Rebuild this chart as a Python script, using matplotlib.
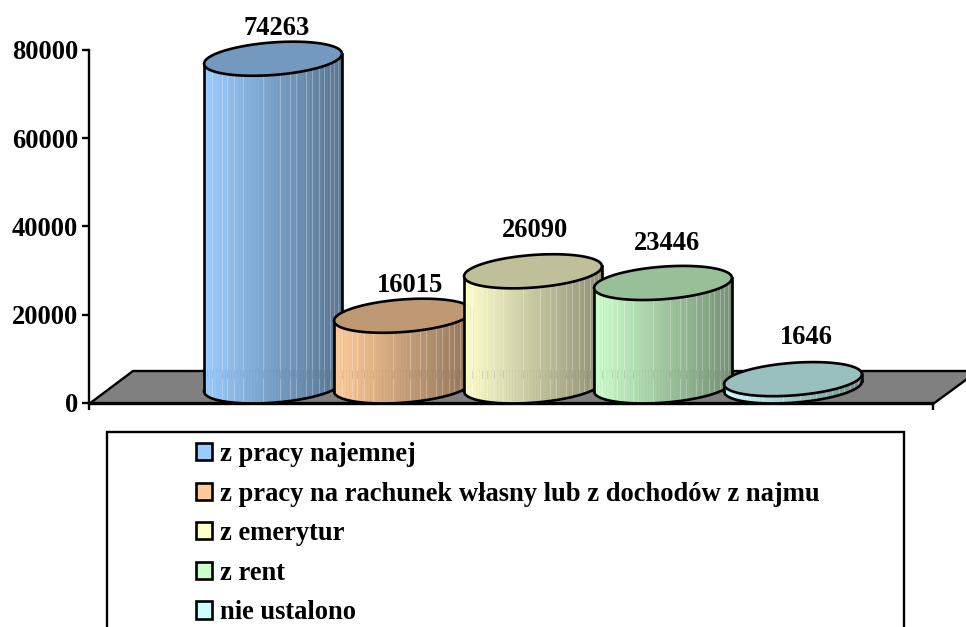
import numpy as np
import matplotlib
matplotlib.use('Agg')
import matplotlib.pyplot as plt
from matplotlib.patches import Patch, Polygon, Rectangle
from matplotlib.transforms import Affine2D

plt.rcParams['font.family'] = ['Liberation Serif', 'DejaVu Serif']
plt.rcParams['font.weight'] = 'bold'

categories = ['z pracy najemnej',
              'z pracy na rachunek własny lub z dochodów z najmu',
              'z emerytur', 'z rent', 'nie ustalono']
values = [74263, 16015, 26090, 23446, 1646]
yticks = [0, 20000, 40000, 60000, 80000]
colors = ['#99CCFF', '#FFCC99', '#FFFFCC', '#CCFFCC', '#CCFFFF']

# where the pale lines sit across a cylinder, 0 = left side, 1 = right side
stripes = [.06, .13, .17, .22, .28, .43, .55, .62, .67, .74, .78, .83, .87, .91, .94, .97]
# hand placed value labels in the original, pixels from the top of the cylinder
label_dx = [4, 7, 2, 4, 13]
label_dy = [30, 30, 41, 39, 42]

W, H = 966, 627
FONT = 19.1
EDGE = 1.9
fig = plt.figure(figsize=(W / 100, H / 100), dpi=100)
# pixel coords of the reference, y going down
px = Affine2D().scale(1 / W, -1 / H).translate(0, 1) + fig.transFigure

ax = fig.add_axes([89 / W, 1 - 403 / H, (933 - 89) / W, (403 - 50) / H])
ax.patch.set_alpha(0)
ax.set_ylim(0, 80000)
ax.set_xlim((89 - 273) / 130, (933 - 273) / 130)
unit = 80000 / 353  # value per pixel
half = 69 / 130     # half width of a cylinder in category units
depth = 16.6 * unit   # bottom ellipse centre above the base line
minor = 16.3 * unit
tilt = 5 * unit


def lower(u, c):
    return c + tilt * u - minor * np.sqrt(np.clip(1 - u ** 2, 0, 1))


def upper(u, c):
    return c + tilt * u + minor * np.sqrt(np.clip(1 - u ** 2, 0, 1))


# floor
ax.add_patch(Polygon([(89, 404), (133, 371), (978, 371), (933, 404)], closed=True,
                     facecolor='#808080', edgecolor='black', lw=1.7, transform=px,
                     zorder=1, clip_on=False))

for i, (v, c) in enumerate(zip(values, colors)):
    z = 4 + i
    rgb = np.array(matplotlib.colors.to_rgb(c))
    top = v + depth
    edges = np.linspace(-1, 1, 47)
    for a, b in zip(edges[:-1], edges[1:]):
        shade = rgb * (1 - 0.44 * ((a + b) / 2 + 1) / 2)
        u = np.linspace(a, b, 6)
        ax.fill_between(i + half * u, lower(u, depth), lower(u, top), color=shade,
                        lw=0.4, zorder=z, clip_on=False)
    for s in stripes:
        u = 2 * s - 1
        ax.plot([i + half * u] * 2, [lower(u, depth), lower(u, top)], color='white',
                alpha=0.28, lw=0.8, zorder=z, clip_on=False)
        # small dark dashes where the back of the floor passes behind
        if lower(u, top) > 32 * unit:
            ax.plot([i + half * u] * 2, [25 * unit, 32 * unit], color='black',
                    alpha=0.12, lw=0.7, zorder=z, clip_on=False)
    u = np.linspace(-1, 1, 200)
    ax.plot(i + half * u, lower(u, depth), color='black', lw=EDGE, zorder=z, clip_on=False)
    ax.plot([i - half] * 2, [depth - tilt, top - tilt], color='black', lw=EDGE, zorder=z, clip_on=False)
    ax.plot([i + half] * 2, [depth + tilt, top + tilt], color='black', lw=EDGE, zorder=z, clip_on=False)
    xs = np.r_[i + half * u, i + half * u[::-1]]
    ys = np.r_[upper(u, top), lower(u[::-1], top)]
    ax.fill(xs, ys, facecolor=rgb * 0.75, edgecolor='black', lw=EDGE, zorder=z, clip_on=False)
    ax.annotate(str(v), (i, top), xytext=(label_dx[i], label_dy[i]), textcoords='offset pixels',
                ha='center', va='center', fontsize=FONT, fontweight='bold', zorder=20)

for s in ['top', 'right']:
    ax.spines[s].set_visible(False)
for s in ['left', 'bottom']:
    ax.spines[s].set_linewidth(1.7)
ax.set_yticks(yticks)
ax.set_xticks(ax.get_xlim())
ax.set_xticklabels(['', ''])
ax.tick_params(axis='both', width=1.7, length=5)
ax.tick_params(axis='y', labelsize=FONT, pad=3)

# legend frame runs off the bottom of the picture
fig.add_artist(Rectangle((107, 432), 797, 260, facecolor='white', edgecolor='black',
                         lw=1.7, transform=px, zorder=1))
handles = [Patch(facecolor=c, edgecolor='black', lw=1.9) for c in colors]
fig.legend(handles, categories, loc='upper left', bbox_to_anchor=(196 / W, 1 - 442 / H),
           frameon=False, handlelength=0.62, handleheight=0.62,
           handletextpad=0.27, labelspacing=0.55, borderpad=0, borderaxespad=0,
           prop={'size': FONT, 'weight': 'bold'})

fig.savefig('out.png', dpi=100)
